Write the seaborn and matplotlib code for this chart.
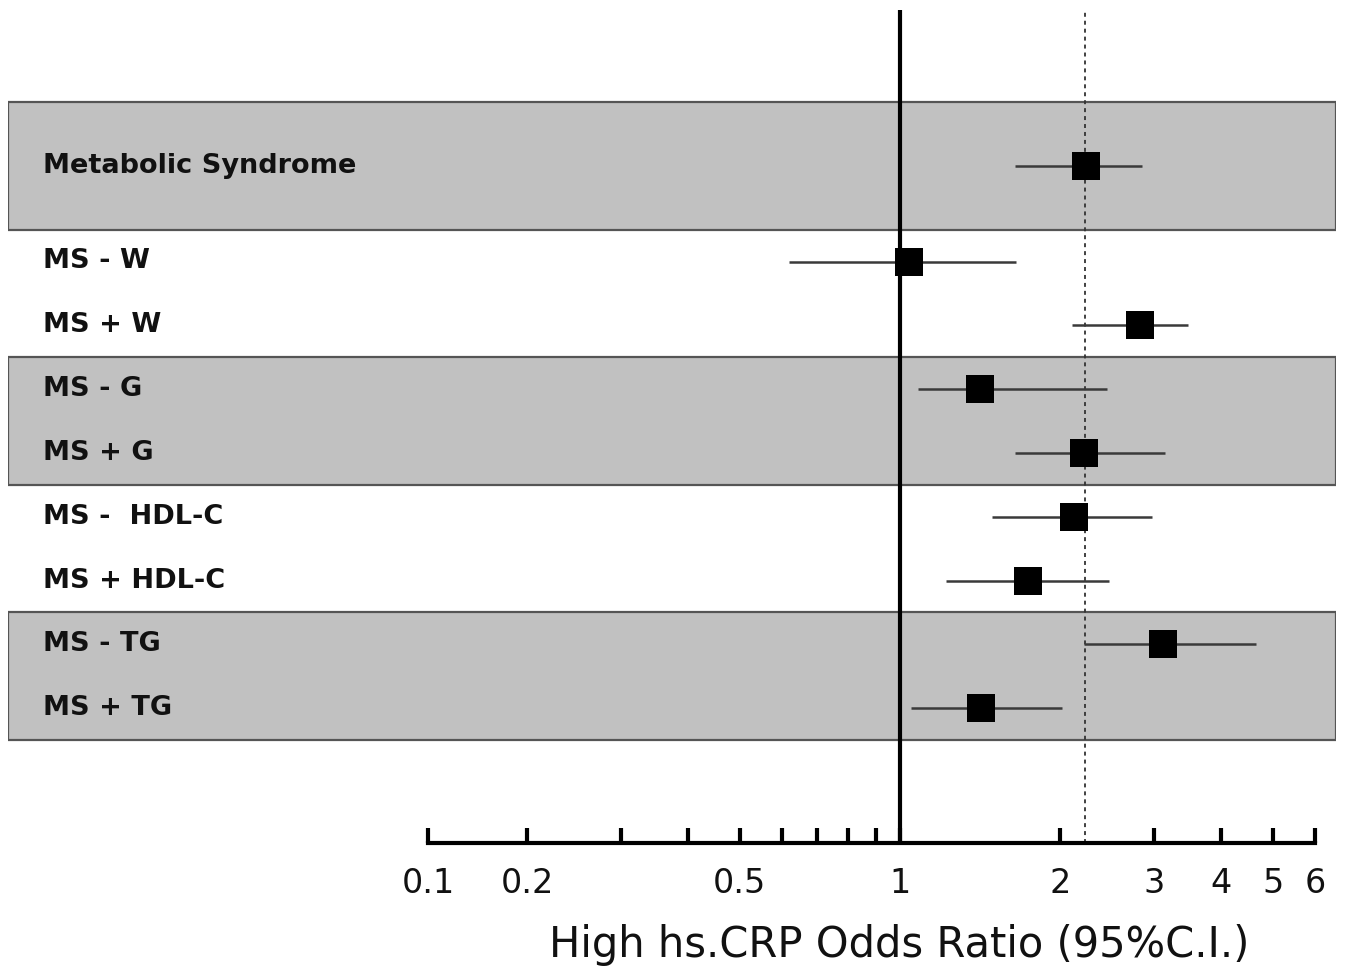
import numpy as np
import pandas as pd
import matplotlib
matplotlib.use("Agg")
import matplotlib.pyplot as plt
import seaborn as sns

# Forest plot data (odds ratios)
labels = ["Metabolic Syndrome", "MS - W", "MS + W", "MS - G", "MS + G",
          "MS -  HDL-C", "MS + HDL-C", "MS - TG", "MS + TG"]
odds = [2.23, 1.04, 2.82, 1.41, 2.21, 2.12, 1.74, 3.11, 1.42]
ci_low = [1.64, 0.62, 2.10, 1.08, 1.64, 1.49, 1.22, 2.21, 1.05]
ci_high = [2.84, 1.65, 3.47, 2.45, 3.14, 2.97, 2.47, 4.65, 2.01]
group = [0, 1, 1, 2, 2, 3, 3, 4, 4]
shaded_groups = [0, 2, 4]
overall_or = 2.22

tick_values = [0.1, 0.2, 0.3, 0.4, 0.5, 0.6, 0.7, 0.8, 0.9, 1, 2, 3, 4, 5, 6]
tick_labels = ["0.1", "0.2", "", "", "0.5", "", "", "", "", "1",
               "2", "3", "4", "5", "6"]

# row positions: each group is one unit tall, rows spread evenly inside it
df = pd.DataFrame({"label": labels, "odds": odds, "lo": ci_low,
                   "hi": ci_high, "group": group})
df["n"] = df.groupby("group")["label"].transform("count")
df["i"] = df.groupby("group").cumcount()
df["y"] = df["group"] + (df["i"] + 0.5) / df["n"]

# odd axis: log scale, but the 0.1-0.2 stretch is squeezed
L2 = np.log10(0.2)
K = 0.617


def forward(x):
    with np.errstate(divide="ignore", invalid="ignore"):
        lx = np.log10(np.clip(x, 1e-9, None))
    return np.where(lx >= L2, lx, L2 + (lx - L2) * K)


def inverse(t):
    t = np.asarray(t, dtype=float)
    return np.where(t >= L2, 10.0 ** t, 10.0 ** (L2 + (t - L2) / K))


sns.set_theme(style="white")
plt.rcParams["font.family"] = ["DejaVu Sans"]

fig = plt.figure(figsize=(13.46, 9.73), dpi=100)
ax = fig.add_axes([8 / 1346, 1 - 843 / 973, 1328 / 1346, 833 / 973])

ax.set_xscale("function", functions=(forward, inverse))
px_decade = 533
ax.set_xlim(float(inverse(-892 / px_decade)), float(inverse(436 / px_decade)))
ax.set_ylim((843 - 102) / 127.6, -92 / 127.6)

# shaded bands
for g in shaded_groups:
    ax.axhspan(g, g + 1, facecolor="#c1c1c1", edgecolor="#555555",
               linewidth=1.6, zorder=0)

# reference lines
ax.axvline(1, color="black", lw=3, zorder=2)
ax.axvline(overall_or, color="#333333", lw=1.3, ls=(0, (2.2, 2.2)), zorder=2)

# CI whiskers and point estimates
ax.hlines(df["y"], df["lo"], df["hi"], color="#3a3a3a", lw=1.8, zorder=3)
sns.scatterplot(data=df, x="odds", y="y", marker="s", s=380, color="black",
                edgecolor="black", linewidth=0, zorder=4, legend=False, ax=ax)

# row labels
for _, r in df.iterrows():
    ax.text(0.0264, r["y"], r["label"], transform=ax.get_yaxis_transform(),
            ha="left", va="center", fontsize=19.5, fontweight="bold",
            color="#111111")

# axis styling
for s in ["left", "top", "right"]:
    ax.spines[s].set_visible(False)
ax.spines["bottom"].set_bounds(0.1, 6)
ax.spines["bottom"].set_linewidth(3)
ax.spines["bottom"].set_color("black")
ax.set_yticks([])
ax.set_xticks(tick_values)
ax.set_xticklabels(tick_labels)
ax.xaxis.set_minor_locator(matplotlib.ticker.NullLocator())
ax.tick_params(axis="x", direction="in", length=11, width=3, pad=17,
               labelsize=24, colors="black", labelcolor="#111111", bottom=True)
ax.set_xlabel("High hs.CRP Odds Ratio (95%C.I.)", fontsize=30, color="#111111")
ax.xaxis.set_label_coords((899 - 8) / 1328, (843 - 924) / 833)
ax.set_ylabel("")
ax.patch.set_alpha(0)

plt.savefig("out.png", dpi=100)
plt.close()
